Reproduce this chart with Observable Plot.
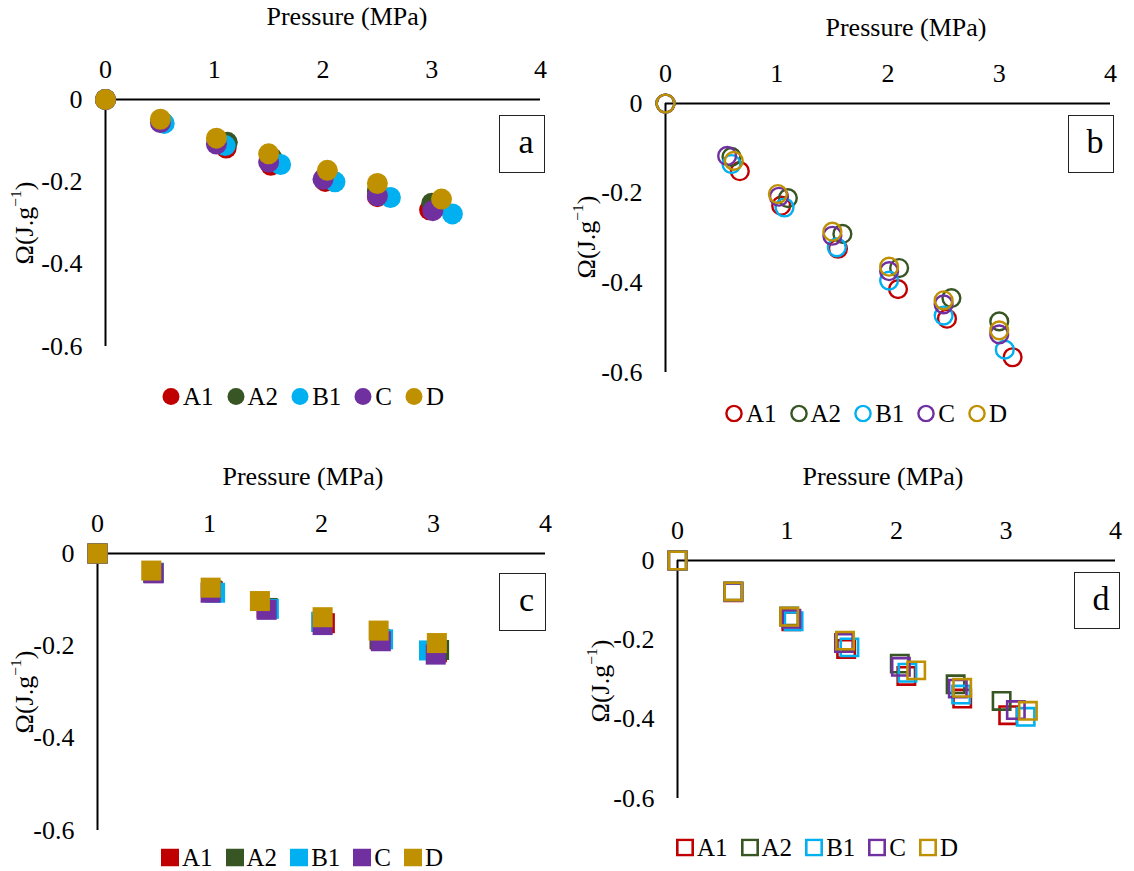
<!DOCTYPE html>
<html><head><meta charset="utf-8">
<script src="https://cdn.jsdelivr.net/npm/d3@7"></script>
<script src="https://cdn.jsdelivr.net/npm/@observablehq/plot@0.6"></script>
<style>
body{margin:0;background:#fff;}
#page{position:relative;width:1134px;height:871px;overflow:hidden;font-family:"Liberation Serif","Times New Roman",serif;color:#000;background:#fff;}
.abs{position:absolute;}
.title{font-size:26px;white-space:nowrap;transform:translate(-50%,-50%);line-height:1;}
.ylab{font-size:26px;white-space:nowrap;transform:translate(-50%,-50%) rotate(-90deg);line-height:1;}
.ylab sup{font-size:0.6em;vertical-align:0.75em;line-height:0;}
.box{border:1.6px solid #222;box-sizing:border-box;display:flex;align-items:center;justify-content:center;font-size:34px;padding-left:8px;padding-bottom:4px;}
.legend{display:flex;align-items:center;font-size:25px;gap:13px;transform:translateY(-50%);line-height:1;white-space:nowrap;}
.item{display:flex;align-items:center;}
.item svg{margin-right:3px;display:block;}
svg.plot{position:absolute;overflow:visible;}
</style></head><body><div id="page"></div>
<script>
// ---------- data ----------
const series = ["A1", "A2", "B1", "C", "D"];
const colors = ["#C00000", "#375623", "#00B0F0", "#7030A0", "#BF9000"];
const xTicks = [0, 1, 2, 3, 4];
const yTicks = [0, -0.2, -0.4, -0.6];
const xTitle = "Pressure (MPa)";

// panel a (filled circles)
const aPressure = {
  A1: [0, 0.52, 1.11, 1.52, 2.02, 2.50, 2.98],
  A2: [0, 0.52, 1.12, 1.53, 2.02, 2.50, 3.00],
  B1: [0, 0.54, 1.10, 1.61, 2.11, 2.62, 3.19],
  C:  [0, 0.505, 1.02, 1.50, 2.00, 2.50, 3.01],
  D:  [0, 0.505, 1.02, 1.50, 2.04, 2.50, 3.09]
};
const aOmega = {
  A1: [0, -0.056, -0.118, -0.160, -0.199, -0.236, -0.268],
  A2: [0, -0.054, -0.104, -0.142, -0.188, -0.222, -0.252],
  B1: [0, -0.058, -0.112, -0.158, -0.200, -0.238, -0.278],
  C:  [0, -0.056, -0.108, -0.152, -0.194, -0.234, -0.270],
  D:  [0, -0.048, -0.094, -0.132, -0.172, -0.204, -0.242]
};
// panel b (open circles)
const bPressure = {
  A1: [0, 0.668, 1.04, 1.55, 2.09, 2.53, 3.12],
  A2: [0, 0.593, 1.10, 1.59, 2.10, 2.57, 3.00],
  B1: [0, 0.593, 1.07, 1.54, 2.01, 2.50, 3.05],
  C:  [0, 0.554, 1.02, 1.50, 2.01, 2.50, 3.00],
  D:  [0, 0.614, 1.01, 1.50, 2.01, 2.50, 3.00]
};
const bOmega = {
  A1: [0, -0.151, -0.228, -0.324, -0.414, -0.480, -0.566],
  A2: [0, -0.119, -0.211, -0.291, -0.367, -0.434, -0.486],
  B1: [0, -0.135, -0.232, -0.321, -0.395, -0.473, -0.549],
  C:  [0, -0.117, -0.208, -0.295, -0.374, -0.448, -0.515],
  D:  [0, -0.128, -0.202, -0.286, -0.364, -0.439, -0.506]
};
// panel c (filled squares)
const cPressure = {
  A1: [0, 0.50, 1.03, 1.51, 2.03, 2.52, 3.03],
  A2: [0, 0.50, 1.02, 1.52, 2.00, 2.52, 3.05],
  B1: [0, 0.50, 1.05, 1.53, 2.00, 2.55, 2.96],
  C:  [0, 0.50, 1.01, 1.51, 2.01, 2.53, 3.02],
  D:  [0, 0.48, 1.01, 1.45, 2.01, 2.51, 3.03]
};
const cOmega = {
  A1: [0, -0.042, -0.082, -0.118, -0.151, -0.186, -0.214],
  A2: [0, -0.042, -0.080, -0.118, -0.148, -0.185, -0.209],
  B1: [0, -0.042, -0.085, -0.120, -0.148, -0.186, -0.210],
  C:  [0, -0.043, -0.085, -0.122, -0.155, -0.190, -0.219],
  D:  [0, -0.037, -0.074, -0.103, -0.138, -0.167, -0.194]
};
// panel d (open squares)
const dPressure = {
  A1: [0, 0.51, 1.04, 1.54, 2.09, 2.60, 3.02],
  A2: [0, 0.51, 1.02, 1.53, 2.03, 2.54, 2.96],
  B1: [0, 0.51, 1.06, 1.57, 2.10, 2.59, 3.18],
  C:  [0, 0.51, 1.04, 1.52, 2.04, 2.56, 3.09],
  D:  [0, 0.51, 1.02, 1.53, 2.18, 2.60, 3.20]
};
const dOmega = {
  A1: [0, -0.080, -0.153, -0.223, -0.291, -0.348, -0.390],
  A2: [0, -0.078, -0.141, -0.205, -0.260, -0.312, -0.354],
  B1: [0, -0.079, -0.153, -0.219, -0.283, -0.338, -0.394],
  C:  [0, -0.079, -0.147, -0.208, -0.268, -0.323, -0.377],
  D:  [0, -0.078, -0.142, -0.202, -0.277, -0.321, -0.379]
};

// ---------- layout (page pixels) ----------
const panels = [
  {letter:"a", P:aPressure, O:aOmega, kind:"fillCircle",
   left:0, top:40, w:567, h:330, x0:105, x4:540, y0:99, y6:346,
   title:[347,17], ylab:[25,223], box:[499,115,545,173], legend:[162,396]},
  {letter:"b", P:bPressure, O:bOmega, kind:"openCircle",
   left:567, top:45, w:567, h:340, x0:665, x4:1110, y0:103, y6:372,
   title:[906,28], ylab:[587,237], box:[1068,115,1114,173], legend:[725,413]},
  {letter:"c", P:cPressure, O:cOmega, kind:"fillSquare",
   left:0, top:495, w:567, h:350, x0:97, x4:545, y0:553, y6:830,
   title:[303,477], ylab:[25,692], box:[499,573,546,631], legend:[161,857]},
  {letter:"d", P:dPressure, O:dOmega, kind:"openSquare",
   left:567, top:500, w:567, h:315, x0:677, x4:1115, y0:560, y6:798,
   title:[883,477], ylab:[601,681], box:[1074,572,1120,629], legend:[676,847]}
];

const markerOpts = {
  fillCircle: {fill: "series", r: 10.5, symbol: "circle"},
  openCircle: {stroke: "series", fill: "none", r: 8.9, strokeWidth: 2.4, symbol: "circle"},
  fillSquare: {fill: "series", r: 11.3, symbol: "square"},
  openSquare: {stroke: "series", fill: "none", r: 9.8, strokeWidth: 2.6, symbol: "square"}
};

const page = document.getElementById("page");

function legendSymbol(kind, color) {
  const ns = "http://www.w3.org/2000/svg";
  const s = document.createElementNS(ns, "svg");
  s.setAttribute("width", 18); s.setAttribute("height", 18);
  let el;
  if (kind === "fillCircle") { el = document.createElementNS(ns, "circle"); el.setAttribute("cx", 9); el.setAttribute("cy", 9); el.setAttribute("r", 8.5); el.setAttribute("fill", color); }
  if (kind === "openCircle") { el = document.createElementNS(ns, "circle"); el.setAttribute("cx", 9); el.setAttribute("cy", 9); el.setAttribute("r", 7.6); el.setAttribute("fill", "none"); el.setAttribute("stroke", color); el.setAttribute("stroke-width", 2.4); }
  if (kind === "fillSquare") { el = document.createElementNS(ns, "rect"); el.setAttribute("x", 0); el.setAttribute("y", 0); el.setAttribute("width", 18); el.setAttribute("height", 18); el.setAttribute("fill", color); }
  if (kind === "openSquare") { el = document.createElementNS(ns, "rect"); el.setAttribute("x", 1.3); el.setAttribute("y", 1.3); el.setAttribute("width", 15.4); el.setAttribute("height", 15.4); el.setAttribute("fill", "none"); el.setAttribute("stroke", color); el.setAttribute("stroke-width", 2.6); }
  s.appendChild(el);
  return s;
}

for (const L of panels) {
  const rows = [];
  series.forEach(s => L.P[s].forEach((p, i) => rows.push({series: s, p, w: L.O[s][i]})));

  const chart = Plot.plot({
    width: L.w, height: L.h,
    marginLeft: L.x0 - L.left, marginRight: L.left + L.w - L.x4,
    marginTop: L.y0 - L.top, marginBottom: L.top + L.h - L.y6,
    x: {domain: [xTicks[0], xTicks[xTicks.length - 1]], axis: null},
    y: {domain: [yTicks[yTicks.length - 1], yTicks[0]], axis: null},
    color: {domain: series, range: colors},
    style: {fontFamily: '"Liberation Serif","Times New Roman",serif', fontSize: "26px", background: "transparent", color: "#000", overflow: "visible"},
    marks: [
      Plot.axisX(xTicks, {anchor: "top", tickSize: 0, tickPadding: 22, label: null, fontSize: 26}),
      Plot.axisY(yTicks, {anchor: "left", tickSize: 0, tickPadding: 23, label: null, fontSize: 26,
        tickFormat: d => d === 0 ? "0" : d.toFixed(1)}),
      Plot.ruleY([yTicks[0]], {x1: xTicks[0], x2: xTicks[xTicks.length - 1], stroke: "#000", strokeWidth: 2}),
      Plot.ruleX([xTicks[0]], {y1: yTicks[0], y2: yTicks[yTicks.length - 1], stroke: "#000", strokeWidth: 2}),
      Plot.dot(rows, {x: "p", y: "w", ...markerOpts[L.kind]})
    ]
  });
  chart.classList.add("plot");
  chart.style.left = L.left + "px";
  chart.style.top = L.top + "px";
  page.appendChild(chart);

  const t = document.createElement("div");
  t.className = "abs title"; t.textContent = xTitle;
  t.style.left = L.title[0] + "px"; t.style.top = L.title[1] + "px";
  page.appendChild(t);

  const yl = document.createElement("div");
  yl.className = "abs ylab"; yl.innerHTML = "Ω(J.g<sup>−1</sup>)";
  yl.style.left = L.ylab[0] + "px"; yl.style.top = L.ylab[1] + "px";
  page.appendChild(yl);

  const b = document.createElement("div");
  b.className = "abs box"; b.textContent = L.letter;
  b.style.left = L.box[0] + "px"; b.style.top = L.box[1] + "px";
  b.style.width = (L.box[2] - L.box[0]) + "px"; b.style.height = (L.box[3] - L.box[1]) + "px";
  page.appendChild(b);

  const lg = document.createElement("div");
  lg.className = "abs legend";
  lg.style.left = L.legend[0] + "px"; lg.style.top = L.legend[1] + "px";
  series.forEach((s, i) => {
    const it = document.createElement("div"); it.className = "item";
    it.appendChild(legendSymbol(L.kind, colors[i]));
    const sp = document.createElement("span"); sp.textContent = s;
    it.appendChild(sp);
    lg.appendChild(it);
  });
  page.appendChild(lg);
}
</script>
</body></html>
